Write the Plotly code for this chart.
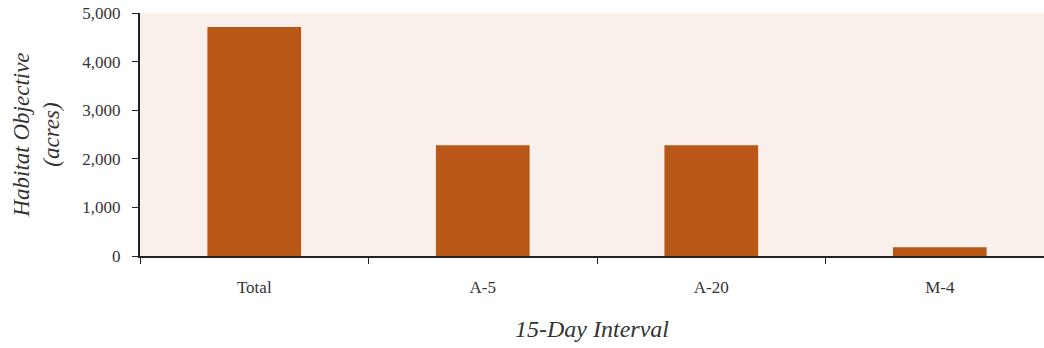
import plotly.graph_objects as go

categories = ["Total", "A-5", "A-20", "M-4"]
values = [4710, 2280, 2280, 180]
y_ticks = [0, 1000, 2000, 3000, 4000, 5000]
y_tick_labels = ["0", "1,000", "2,000", "3,000", "4,000", "5,000"]

font_family = "Liberation Serif, DejaVu Serif, serif"
text_color = "#333333"

fig = go.Figure(
    go.Bar(
        x=categories,
        y=values,
        marker=dict(color="#B85716", line=dict(width=0)),
        width=0.41,
    )
)

fig.update_layout(
    width=1044,
    height=348,
    margin=dict(l=140, r=0, t=13, b=92, autoexpand=False),
    plot_bgcolor="#F9F0EB",
    paper_bgcolor="white",
    showlegend=False,
    font=dict(family=font_family, color=text_color, size=17),
)

fig.update_xaxes(
    type="category",
    range=[-0.5, 3.456],
    tickson="boundaries",
    ticks="outside",
    ticklen=6,
    tickcolor="#222222",
    showline=True,
    linecolor="#222222",
    linewidth=2,
    showgrid=False,
    automargin=False,
    tickfont=dict(size=17, family=font_family, color=text_color),
    ticklabelstandoff=15,
    title=dict(
        text="<i>15-Day Interval</i>",
        font=dict(size=24, family=font_family, color=text_color),
        standoff=24,
    ),
)

fig.update_yaxes(
    range=[0, 5000],
    tickvals=y_ticks,
    ticktext=y_tick_labels,
    ticks="outside",
    ticklen=6,
    tickcolor="#222222",
    showline=True,
    linecolor="#222222",
    linewidth=2,
    showgrid=False,
    zeroline=False,
    automargin=False,
    ticklabeloverflow="allow",
    tickfont=dict(size=17, family=font_family, color=text_color),
    ticklabelstandoff=8,
    title=dict(
        text="<i>Habitat Objective</i><br><i>(acres)</i>",
        font=dict(size=23, family=font_family, color=text_color),
        standoff=16,
    ),
)

fig.write_html(
    "out.html",
    config={"displayModeBar": False},
    post_script="document.body.style.margin='0';document.body.style.overflow='hidden';",
)
